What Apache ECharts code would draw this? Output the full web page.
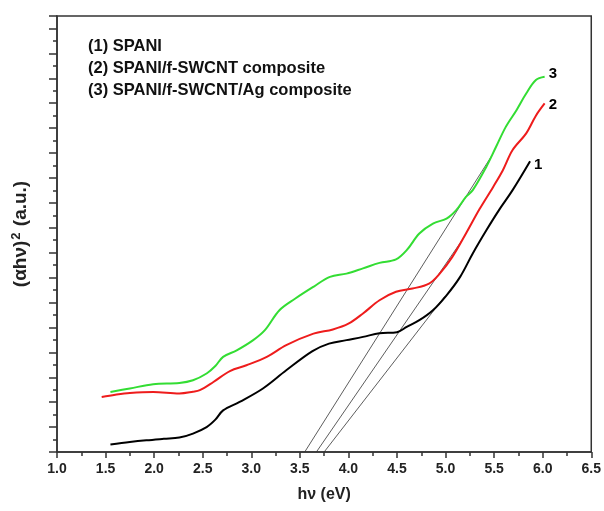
<!DOCTYPE html>
<html><head><meta charset="utf-8">
<script src="https://cdn.jsdelivr.net/npm/echarts@6/dist/echarts.min.js"></script>
<style>html,body{margin:0;padding:0;background:#fff}#c{width:604px;height:511px}</style>
</head><body><div id="c"></div>
<script>
// Tick labels of the x axis (eV)
const xTicks = [1.0,1.5,2.0,2.5,3.0,3.5,4.0,4.5,5.0,5.5,6.0,6.5];
// Legend texts
const legendLines = ['(1) SPANI','(2) SPANI/f-SWCNT composite','(3) SPANI/f-SWCNT/Ag composite'];
// Curve 1 : SPANI (black)
const x1 = [1.55,1.75,1.92,2.10,2.26,2.40,2.54,2.63,2.71,2.88,3.12,3.36,3.63,3.80,3.98,4.15,4.32,4.50,4.60,4.73,4.87,5.01,5.15,5.28,5.42,5.55,5.69,5.87];
const y1 = [0.30,0.40,0.47,0.53,0.58,0.74,1.00,1.30,1.67,2.01,2.55,3.28,4.05,4.35,4.49,4.62,4.77,4.81,5.02,5.29,5.69,6.29,7.03,7.97,8.90,9.71,10.51,11.67];
// Curve 2 : SPANI/f-SWCNT (red)
const x2 = [1.46,1.60,1.75,1.99,2.26,2.40,2.47,2.61,2.78,2.95,3.16,3.36,3.64,3.84,4.00,4.15,4.32,4.49,4.66,4.83,4.94,5.07,5.21,5.35,5.49,5.59,5.69,5.83,5.93,6.02];
const y2 = [2.21,2.30,2.37,2.41,2.35,2.42,2.48,2.81,3.25,3.48,3.82,4.29,4.75,4.92,5.15,5.56,6.09,6.43,6.56,6.76,7.16,7.83,8.77,9.75,10.64,11.31,12.12,12.79,13.50,13.99];
// Curve 3 : SPANI/f-SWCNT/Ag (green)
const x3 = [1.55,1.75,1.99,2.26,2.40,2.54,2.63,2.71,2.85,3.02,3.14,3.29,3.45,3.64,3.81,3.98,4.15,4.32,4.49,4.60,4.73,4.87,5.01,5.11,5.21,5.28,5.42,5.52,5.62,5.73,5.83,5.93,6.02];
const y3 = [2.41,2.55,2.72,2.77,2.88,3.15,3.45,3.82,4.08,4.49,4.89,5.69,6.15,6.63,7.03,7.16,7.37,7.59,7.73,8.10,8.77,9.17,9.37,9.71,10.24,10.51,11.45,12.25,13.05,13.72,14.39,14.93,15.06];
// Tangent (Tauc) lines: [x0, y0, x1, y1]
const tangent1 = [3.75,0,4.99,6.24];
const tangent2 = [3.67,0,5.17,8.50];
const tangent3 = [3.55,0,5.49,11.98];

const FONT = 'Arial, "Liberation Sans", sans-serif';
function pairs(xs, ys){ return xs.map((x,i)=>[x, ys[i]]); }
function seg(t){ return [[t[0],t[1]],[t[2],t[3]]]; }

function curve(name, xs, ys, color, lab, off){
  return {
    name, type:'line', data: pairs(xs,ys), smooth:0.35, showSymbol:false, symbol:'none',
    lineStyle:{color, width:2}, z:3, silent:true,
    endLabel:{show:true, formatter:lab, color:'#000', fontFamily:FONT, fontWeight:'bold', fontSize:15, distance:4, offset:off}
  };
}
function tline(t){
  return {type:'line', data: seg(t), showSymbol:false, symbol:'none', lineStyle:{color:'#333', width:0.8}, z:2, silent:true};
}

const chart = echarts.init(document.getElementById('c'), null, {renderer:'canvas'});
chart.setOption({
  animation:false,
  backgroundColor:'#fff',
  grid:{left:57, right:12, top:16, bottom:59, show:true, borderColor:'#333', borderWidth:1.5, backgroundColor:'transparent'},
  xAxis:{
    type:'value', min:1, max:6.5, interval:0.5,
    axisLine:{show:true, lineStyle:{color:'#333', width:1.5}},
    axisTick:{show:true, length:6, lineStyle:{color:'#333', width:1.5}},
    minorTick:{show:true, splitNumber:2, length:4, lineStyle:{color:'#333', width:1.5}},
    splitLine:{show:false},
    axisLabel:{margin:10, color:'#222', fontFamily:FONT, fontWeight:'bold', fontSize:14, formatter:v=>{const t=xTicks.find(q=>Math.abs(q-v)<1e-6); return t===undefined?'':t.toFixed(1);}},
    name:'hν (eV)', nameLocation:'middle', nameGap:35,
    nameTextStyle:{color:'#222', fontFamily:FONT, fontWeight:'bold', fontSize:16}
  },
  yAxis:{
    type:'value', min:0, max:17.5, interval:1,
    axisLine:{show:true, lineStyle:{color:'#333', width:1.5}},
    axisTick:{show:true, length:8, lineStyle:{color:'#333', width:1.5}},
    minorTick:{show:true, splitNumber:2, length:4, lineStyle:{color:'#333', width:1.5}},
    splitLine:{show:false},
    axisLabel:{show:false},
    name:'{a|(αhν)}{s|2}{a| (a.u.)}', nameLocation:'middle', nameRotate:90, nameGap:25,
    nameTextStyle:{rich:{
      a:{color:'#222', fontFamily:FONT, fontWeight:'bold', fontSize:19},
      s:{color:'#222', fontFamily:FONT, fontWeight:'bold', fontSize:13, verticalAlign:'top', padding:[0,1,9,1]}
    }}
  },
  graphic:[{
    type:'group', left:88, top:38,
    children: legendLines.map((t,i)=>({type:'text', x:0, y:i*22, style:{text:t, fill:'#111', font:'bold 16.5px '+FONT}}))
  }],
  series:[
    tline(tangent1), tline(tangent2), tline(tangent3),
    curve('1', x1, y1, '#000000', '1', [0,4]),
    curve('2', x2, y2, '#ee1c1c', '2', [0,1]),
    curve('3', x3, y3, '#33dd33', '3', [0,-3])
  ]
});
</script></body></html>
